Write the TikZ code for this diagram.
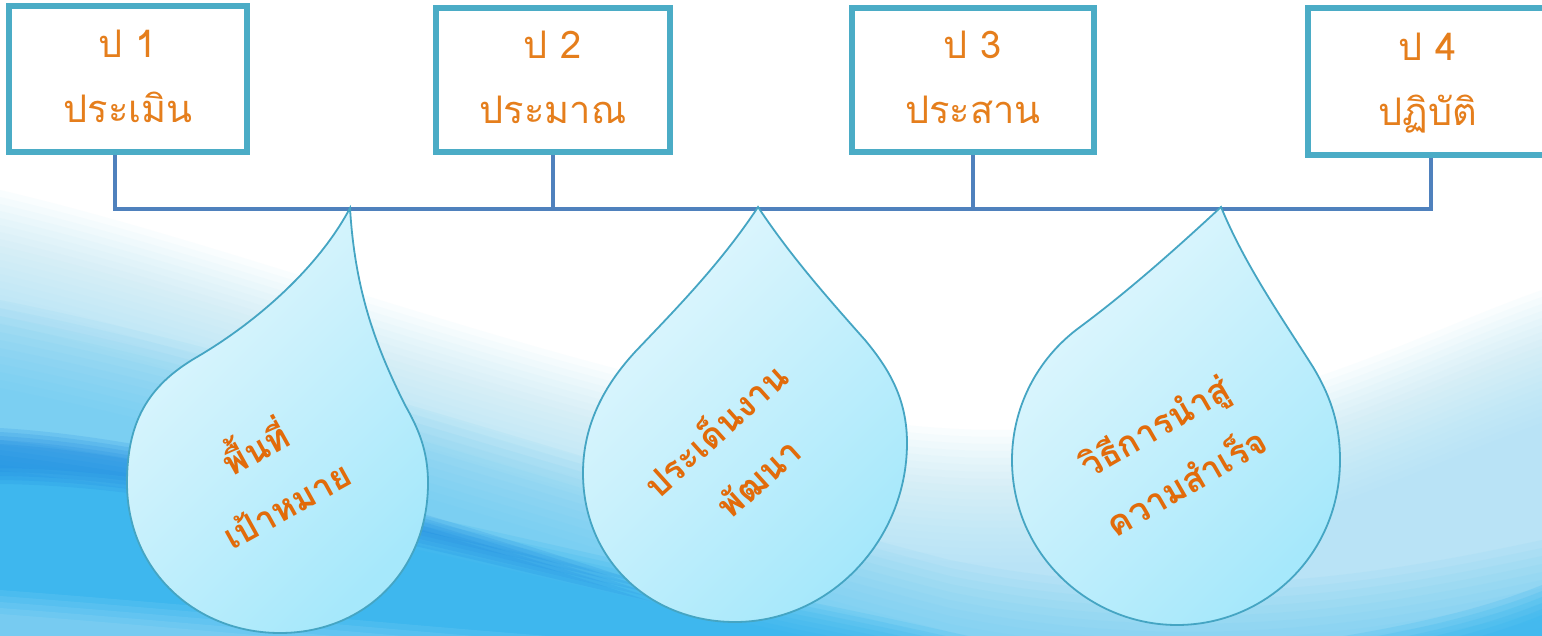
\documentclass[tikz,border=0pt]{standalone}
\usepackage{fontspec}
\newfontfamily\thai[Script=Thai]{Loma}
\definecolor{boxline}{HTML}{4BACC6}
\definecolor{conn}{HTML}{4F81BD}
\definecolor{boxtxt}{HTML}{E57E1C}
\definecolor{droptxt}{HTML}{E26B0A}
\definecolor{dropline}{HTML}{45A5C3}
\definecolor{dropA}{HTML}{E2F7FD}
\definecolor{dropB}{HTML}{A6E8FB}
\definecolor{washc}{HTML}{9FDDF6}
\definecolor{midc}{HTML}{5CC8F2}
\definecolor{strongc}{HTML}{2DB2EE}
\definecolor{darkc}{HTML}{1A86E0}
\tikzset{
  box/.style={draw=boxline, line width=6pt, fill=white, rectangle, inner sep=0pt},
  boxtext/.style={text=boxtxt, font=\thai\fontsize{38}{65}\selectfont, align=center, inner sep=0pt},
  droptext/.style={text=droptxt, font=\thai\bfseries\fontsize{35}{64}\selectfont, align=center, inner sep=0pt},
  bus/.style={draw=conn, line width=3.5pt},
  drop/.style={draw=dropline, line width=1.8pt, top color=dropA, bottom color=dropB, shading angle=45},
}
\begin{document}
\begin{tikzpicture}[x=1pt,y=-1pt]
\useasboundingbox (0,0) rectangle (1542,636);
\clip (0,0) rectangle (1542,636);
% background
\fill[white] (0,0) rectangle (1542,636);
\foreach \k in {0,...,19}{
  \fill[washc, opacity=0.055, yshift=-\k*7pt] (0,190) .. controls (300,260) and (700,430) .. (1000,430) .. controls (1250,430) and (1400,340) .. (1542,290) -- (1542,900) -- (0,900) -- cycle;
}
\foreach \k in {0,...,11}{
  \fill[midc, opacity=0.08, yshift=-\k*8pt] (0,300) .. controls (300,360) and (600,470) .. (950,560) .. controls (1200,610) and (1400,570) .. (1542,540) -- (1542,900) -- (0,900) -- cycle;
}
\foreach \k in {0,...,7}{
  \fill[strongc, opacity=0.16, yshift=-\k*5pt] (0,440) .. controls (250,470) and (500,535) .. (800,600) .. controls (950,630) and (1000,645) .. (1100,665) -- (0,665) -- cycle;
}
\foreach \k in {0,...,4}{
  \fill[darkc, opacity=0.16, yshift=-\k*4pt] (0,428) .. controls (200,440) and (450,520) .. (650,585) .. controls (450,540) and (200,470) .. (0,468) -- cycle;
}
\foreach \k in {0,...,4}{
  \fill[white, opacity=0.07, yshift=-\k*6pt] (0,590) .. controls (200,605) and (400,625) .. (600,640) -- (0,640) -- cycle;
}
\foreach \k in {0,...,5}{
  \fill[strongc, opacity=0.18, yshift=-\k*6pt] (1250,650) .. controls (1400,630) and (1480,610) .. (1542,585) -- (1542,660) -- cycle;
}
% boxes
\node[box, minimum width=238pt, minimum height=146pt] (b1) at (128,79) {};
\node[box, minimum width=234pt, minimum height=144pt] (b2) at (553,80) {};
\node[box, minimum width=242pt, minimum height=144pt] (b3) at (973,80) {};
\node[box, minimum width=241pt, minimum height=147pt] (b4) at (1428,82) {};
% connectors
\coordinate (j1) at (115,209);
\coordinate (j4) at (1431,209);
\draw[bus] (b1.south -| j1) -- (j1) -- (j4) -- (b4.south -| j4);
\draw[bus] (b2.south) -- (b2.south |- j1);
\draw[bus] (b3.south) -- (b3.south |- j1);
% redraw boxes over the connectors
\node[box, minimum width=238pt, minimum height=146pt] at (b1) {};
\node[box, minimum width=234pt, minimum height=144pt] at (b2) {};
\node[box, minimum width=242pt, minimum height=144pt] at (b3) {};
\node[box, minimum width=241pt, minimum height=147pt] at (b4) {};
% box texts
\node[boxtext] (t1) at ([yshift=-11pt]b1.center) {\smash{ป 1}\\\smash{ประเมิน}};
\node[boxtext] (t2) at ([yshift=-11pt]b2.center) {\smash{ป 2}\\\smash{ประมาณ}};
\node[boxtext] (t3) at ([yshift=-11pt]b3.center) {\smash{ป 3}\\\smash{ประสาน}};
\node[boxtext] (t4) at ([yshift=-11pt]b4.center) {\smash{ป 4}\\\smash{ปฏิบัติ}};
% drops
\path[drop] (350,208) .. controls (320,265) and (260,320) .. (197,357)
  .. controls (147,386) and (127,423) .. (127,483)
  .. controls (127,570) and (195,633) .. (280,633)
  .. controls (365,633) and (428,570) .. (428,483)
  .. controls (428,450) and (418,428) .. (405,405)
  .. controls (375,345) and (355,290) .. (350,208) -- cycle;
\path[drop] (758,207) .. controls (720,265) and (670,315) .. (635,352)
  .. controls (600,390) and (583,430) .. (583,473)
  .. controls (583,560) and (650,622) .. (735,622)
  .. controls (830,622) and (907,540) .. (907,443)
  .. controls (907,400) and (890,370) .. (865,340)
  .. controls (825,295) and (790,255) .. (758,207) -- cycle;
\path[drop] (1221,207) .. controls (1180,245) and (1130,290) .. (1080,327)
  .. controls (1035,360) and (1012,410) .. (1012,460)
  .. controls (1012,555) and (1090,625) .. (1177,625)
  .. controls (1265,625) and (1340,555) .. (1340,460)
  .. controls (1340,420) and (1328,392) .. (1313,367)
  .. controls (1280,315) and (1245,265) .. (1221,207) -- cycle;
% drop texts
\node[droptext, rotate=29] (d1) at (278,489) {\smash{พื้นที่}\\\smash{เป้าหมาย}};
\node[droptext, rotate=42] (d2) at (746,464) {\smash{ประเด็นงาน}\\\smash{พัฒนา}};
\node[droptext, rotate=30] (d3) at (1177,466) {\smash{วิธีการนำสู่}\\\smash{ความสำเร็จ}};
\end{tikzpicture}
\end{document}
